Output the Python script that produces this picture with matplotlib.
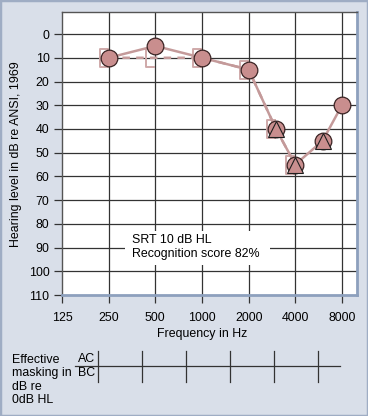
import numpy as np
import matplotlib.pyplot as plt
from matplotlib.path import Path
from matplotlib.patches import Rectangle
from matplotlib.lines import Line2D

# ---- data ----
freq_ticks = [125, 250, 500, 1000, 2000, 4000, 8000]
db_ticks = list(range(0, 120, 10))

ac_freq = [250, 500, 1000, 2000, 3000, 4000, 6000, 8000]
ac_db = [10, 5, 10, 15, 40, 55, 45, 30]

masked_freq = [3000, 4000, 6000]
masked_db = [40, 55, 45]

bc_freq = [250, 500, 1000, 2000, 3000, 4000]
bc_db = [10, 10, 10, 15, 40, 55]

srt_text = "SRT 10 dB HL\nRecognition score 82%"
masking_rows = ["AC", "BC"]
masking_label = "Effective\nmasking in\ndB re\n0dB HL"
n_mask_cols = 6

# ---- style ----
plt.rcParams["font.family"] = ["Liberation Sans", "DejaVu Sans"]
W, H = 368, 416
fs = 8.9
bg = "#d9dfe9"
line_col = "#c49a9a"
fill_col = "#c98e8e"
edge_col = "#3b2424"
grid_col = "#333333"

fig = plt.figure(figsize=(W / 100, H / 100), dpi=100, facecolor=bg)
fig.patches.append(Rectangle((0, 0), 1, 1, transform=fig.transFigure,
                             facecolor="none", edgecolor="#9fadc4", lw=2.5))

# main axes in pixel geometry
L, R, T, B = 62, 357, 12, 295
ax = fig.add_axes([L / W, 1 - B / H, (R - L) / W, (B - T) / H])
ax.set_facecolor("white")
ax.set_xscale("log", base=2)
ax.set_xlim(125, 10000)
ax.set_ylim(110, -9.3)

ax.set_xticks(freq_ticks)
ax.set_xticklabels([str(f) for f in freq_ticks])
ax.minorticks_off()
ax.set_yticks(db_ticks)
ax.tick_params(axis="both", labelsize=fs, length=6, width=0.9, color="#333333",
               pad=3)
ax.tick_params(axis="x", pad=6)

for f in freq_ticks[1:]:
    ax.axvline(f, color=grid_col, lw=0.9, zorder=1)
for d in db_ticks[:-1]:
    ax.axhline(d, color=grid_col, lw=0.9, zorder=1)

for s in ["left", "top"]:
    ax.spines[s].set_color("#555555")
    ax.spines[s].set_linewidth(1.0)
for s in ["right", "bottom"]:
    ax.spines[s].set_color("#8da0bd")
    ax.spines[s].set_linewidth(2.0)

# SRT note with white backing box
ax.add_patch(Rectangle(((125 - L) / (R - L), (B - 265) / (B - T)),
                       145 / (R - L), 34 / (B - T), transform=ax.transAxes,
                       facecolor="white", edgecolor="none", zorder=2))
ax.text((132 - L) / (R - L), (B - 247) / (B - T), srt_text, transform=ax.transAxes,
        fontsize=fs, va="center", ha="left", linespacing=1.2, zorder=3)

# bone conduction: dashed line + "[" brackets
bracket = Path([(0, -1), (-1, -1), (-1, 1), (0, 1)],
               [Path.MOVETO, Path.LINETO, Path.LINETO, Path.LINETO])
ax.plot(bc_freq, bc_db, color=line_col, lw=1.8, ls=(0, (3, 2.5)), zorder=3)
ax.plot(bc_freq, bc_db, ls="none", marker=bracket, markersize=12.5,
        markerfacecolor="none", markeredgecolor="#cfa9a9", markeredgewidth=1.4,
        zorder=3)

# air conduction: solid line with circles, triangles where masked
ax.plot(ac_freq, ac_db, color=line_col, lw=1.8, zorder=4)
ax.plot(ac_freq, ac_db, ls="none", marker="o", markersize=12,
        markerfacecolor=fill_col, markeredgecolor=edge_col, markeredgewidth=0.9,
        zorder=5)
ax.plot(masked_freq, masked_db, ls="none", marker="^", markersize=11,
        markerfacecolor=fill_col, markeredgecolor="#1e1e1e", markeredgewidth=0.8,
        zorder=6)

# axis labels
fig.text(16 / W, 1 - 154 / H, "Hearing level in dB re ANSI, 1969", rotation=90,
         fontsize=fs, ha="center", va="center")
fig.text(202 / W, 1 - 334 / H, "Frequency in Hz", fontsize=fs,
         ha="center", va="center")

# effective masking table
ov = fig.add_axes([0, 0, 1, 1], facecolor="none")
ov.set_xlim(0, W)
ov.set_ylim(H, 0)
ov.axis("off")
ov.text(12, 380, masking_label, fontsize=fs, ha="left", va="center",
        linespacing=1.15)
for k, row in enumerate(masking_rows):
    ov.text(95, 359 + 14 * k, row, fontsize=fs, ha="right", va="center")
ov.add_line(Line2D([75, 340], [366, 366], color="#333333", lw=0.9))
for c in range(n_mask_cols):
    x = 98 + 44 * c
    ov.add_line(Line2D([x, x], [351, 382], color="#333333", lw=0.9))

fig.savefig("out.png", dpi=100, facecolor=bg)
